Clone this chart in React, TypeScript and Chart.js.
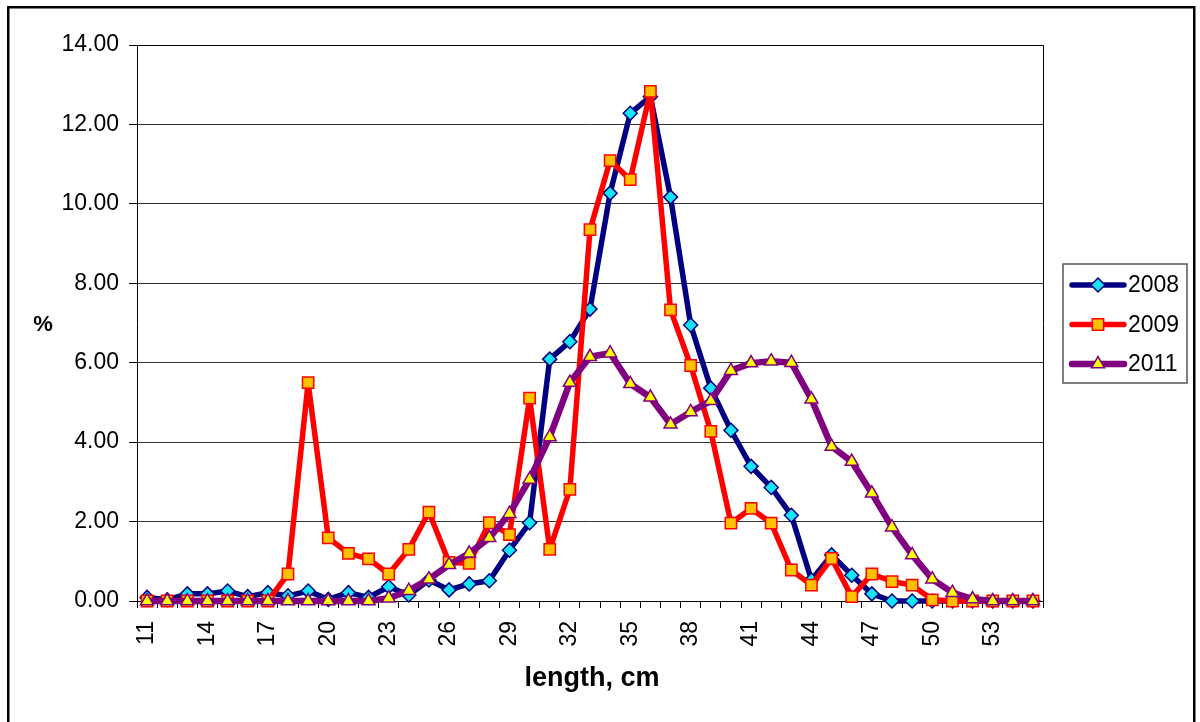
import React, { useEffect, useRef } from "react";
import { Chart, registerables } from "chart.js";

Chart.register(...registerables);

const lengths = [
  "11", "12", "13", "14", "15", "16", "17", "18", "19", "20",
  "21", "22", "23", "24", "25", "26", "27", "28", "29", "30",
  "31", "32", "33", "34", "35", "36", "37", "38", "39", "40",
  "41", "42", "43", "44", "45", "46", "47", "48", "49", "50",
  "51", "52", "53", "54", "55",
];

const y2008 = [
  0.09, 0.03, 0.18, 0.18, 0.25, 0.11, 0.21, 0.13, 0.25, 0.04,
  0.21, 0.09, 0.36, 0.15, 0.53, 0.28, 0.43, 0.51, 1.28, 1.97,
  6.09, 6.53, 7.35, 10.27, 12.28, 12.7, 10.17, 6.95, 5.36, 4.3,
  3.39, 2.86, 2.16, 0.53, 1.16, 0.65, 0.18, 0, 0, 0,
  0, 0, 0, 0, 0,
];

const y2009 = [
  0, 0, 0, 0, 0, 0, 0, 0.68, 5.5, 1.59,
  1.2, 1.06, 0.68, 1.3, 2.24, 0.97, 0.95, 1.97, 1.67, 5.11,
  1.3, 2.81, 9.35, 11.09, 10.61, 12.83, 7.33, 5.93, 4.27, 1.96,
  2.33, 1.96, 0.78, 0.4, 1.07, 0.11, 0.68, 0.49, 0.4, 0.03,
  0, 0, 0, 0, 0,
];

const y2011 = [
  0, 0, 0, 0, 0, 0, 0, 0, 0, 0,
  0, 0, 0.07, 0.26, 0.55, 0.91, 1.2, 1.59, 2.2, 3.06,
  4.13, 5.5, 6.15, 6.24, 5.47, 5.13, 4.45, 4.76, 5.04, 5.8,
  5.99, 6.04, 6.0, 5.08, 3.89, 3.51, 2.71, 1.86, 1.16, 0.55,
  0.21, 0.05, 0, 0, 0,
];

const yTicks = [0, 2, 4, 6, 8, 10, 12, 14];
const seriesNames = ["2008", "2009", "2011"];

const FONT = "'Liberation Sans', Arial, Helvetica, sans-serif";

type Series = {
  name: string;
  data: number[];
  line: string;
  width: number;
  style: "rectRot" | "rect" | "triangle";
  radius: number;
  fill: string;
  stroke: string;
  order: number;
};

const series: Series[] = [
  { name: seriesNames[0], data: y2008, line: "#000080", width: 5.5, style: "rectRot", radius: 7, fill: "#16E4F8", stroke: "#000080", order: 3 },
  { name: seriesNames[1], data: y2009, line: "#FF0000", width: 5.5, style: "rect", radius: 8, fill: "#FFC000", stroke: "#FF0000", order: 2 },
  { name: seriesNames[2], data: y2011, line: "#800080", width: 6.5, style: "triangle", radius: 7.5, fill: "#FFFF00", stroke: "#800080", order: 1 },
];

function drawMarker(ctx: CanvasRenderingContext2D, s: Series, x: number, y: number) {
  ctx.save();
  ctx.beginPath();
  const r = s.radius;
  if (s.style === "rectRot") {
    ctx.moveTo(x - r, y);
    ctx.lineTo(x, y - r);
    ctx.lineTo(x + r, y);
    ctx.lineTo(x, y + r);
    ctx.closePath();
  } else if (s.style === "rect") {
    const h = Math.SQRT1_2 * r;
    ctx.rect(x - h, y - h, 2 * h, 2 * h);
  } else {
    let a = 0;
    ctx.moveTo(x + Math.sin(a) * r, y - Math.cos(a) * r);
    a += (2 * Math.PI) / 3;
    ctx.lineTo(x + Math.sin(a) * r, y - Math.cos(a) * r);
    a += (2 * Math.PI) / 3;
    ctx.lineTo(x + Math.sin(a) * r, y - Math.cos(a) * r);
    ctx.closePath();
  }
  ctx.fillStyle = s.fill;
  ctx.fill();
  ctx.lineWidth = 1.5;
  ctx.strokeStyle = s.stroke;
  ctx.stroke();
  ctx.restore();
}

const decorPlugin = {
  id: "decor",
  afterDraw(chart: any) {
    const ctx: CanvasRenderingContext2D = chart.ctx;
    const a = chart.chartArea;
    ctx.save();
    // plot area top/right border
    ctx.strokeStyle = "#000";
    ctx.lineWidth = 1;
    ctx.beginPath();
    ctx.moveTo(Math.round(a.left) + 0.5, Math.round(a.top) + 0.5);
    ctx.lineTo(Math.round(a.right) + 0.5, Math.round(a.top) + 0.5);
    ctx.lineTo(Math.round(a.right) + 0.5, Math.round(a.bottom) + 0.5);
    ctx.stroke();

    // outer chart border
    ctx.lineWidth = 2.5;
    ctx.strokeStyle = "#000";
    ctx.strokeRect(8.25, 7.25, 1186, 740);

    // axis titles
    ctx.fillStyle = "#000";
    ctx.font = `bold 22px ${FONT}`;
    ctx.textAlign = "center";
    ctx.textBaseline = "middle";
    ctx.fillText("%", 43, (a.top + a.bottom) / 2 + 2);

    ctx.font = `bold 27px ${FONT}`;
    ctx.textBaseline = "alphabetic";
    ctx.fillText("length, cm", (a.left + a.right) / 2 + 2, 686);

    // legend
    const lx = 1063, ly = 264, lw = 124, lh = 119;
    ctx.lineWidth = 1.5;
    ctx.strokeStyle = "#555";
    ctx.strokeRect(lx, ly, lw, lh);
    ctx.font = `23px ${FONT}`;
    ctx.textAlign = "left";
    ctx.textBaseline = "middle";
    series.forEach((s, i) => {
      const y = ly + 21 + i * 39.5;
      ctx.beginPath();
      ctx.lineCap = "round";
      ctx.strokeStyle = s.line;
      ctx.lineWidth = s.width;
      ctx.moveTo(lx + 9, y);
      ctx.lineTo(lx + 61, y);
      ctx.stroke();
      drawMarker(ctx, s, lx + 35, y);
      ctx.fillStyle = "#000";
      ctx.fillText(s.name, lx + 65, y + 1);
    });
    ctx.restore();
  },
};

export default function App() {
  const canvasRef = useRef<HTMLCanvasElement | null>(null);

  useEffect(() => {
    const canvas = canvasRef.current;
    if (!canvas) return;
    const chart = new Chart(canvas, {
      type: "line",
      data: {
        labels: lengths,
        datasets: series.map((s) => ({
          label: s.name,
          data: s.data,
          order: s.order,
          borderColor: s.line,
          backgroundColor: s.line,
          borderWidth: s.width,
          borderJoinStyle: "round",
          borderCapStyle: "round",
          tension: 0,
          fill: false,
          clip: false,
          pointStyle: s.style,
          pointRadius: s.radius,
          pointHoverRadius: s.radius,
          pointBorderWidth: 1.5,
          pointBackgroundColor: s.fill,
          pointBorderColor: s.stroke,
        })) as any,
      },
      options: {
        animation: false,
        responsive: false,
        maintainAspectRatio: false,
        devicePixelRatio: 1,
        layout: { padding: { top: 45, right: 157, bottom: 0, left: 0 } },
        plugins: {
          legend: { display: false },
          tooltip: { enabled: false },
        },
        scales: {
          x: {
            type: "category",
            offset: true,
            grid: {
              offset: true,
              drawOnChartArea: false,
              drawTicks: true,
              tickLength: 7,
              color: "#000",
              tickColor: "#000",
            },
            border: { color: "#000", width: 1 },
            ticks: {
              autoSkip: false,
              maxRotation: 90,
              minRotation: 90,
              padding: 13,
              color: "#000",
              font: { family: FONT, size: 23 },
              callback: function (this: any, v: any, i: number) {
                return i % 3 === 0 ? this.getLabelForValue(v) : "";
              },
            },
            afterFit: (s: any) => {
              s.height = 121;
            },
          },
          y: {
            min: yTicks[0],
            max: yTicks[yTicks.length - 1],
            grid: {
              color: "#333",
              lineWidth: 1,
              tickLength: 8,
              tickColor: "#000",
            },
            border: { color: "#000", width: 1 },
            ticks: {
              stepSize: yTicks[1] - yTicks[0],
              padding: 10,
              color: "#000",
              font: { family: FONT, size: 23 },
              callback: (v: any) => Number(v).toFixed(2),
            },
            afterFit: (s: any) => {
              s.width = 137;
            },
          },
        },
      } as any,
      plugins: [decorPlugin],
    });
    return () => chart.destroy();
  }, []);

  return (
    <div style={{ position: "absolute", left: 0, top: 0, width: 1200, height: 722, overflow: "hidden", background: "#fff" }}>
      <canvas ref={canvasRef} width={1200} height={722} style={{ display: "block", width: 1200, height: 722 }} />
    </div>
  );
}
